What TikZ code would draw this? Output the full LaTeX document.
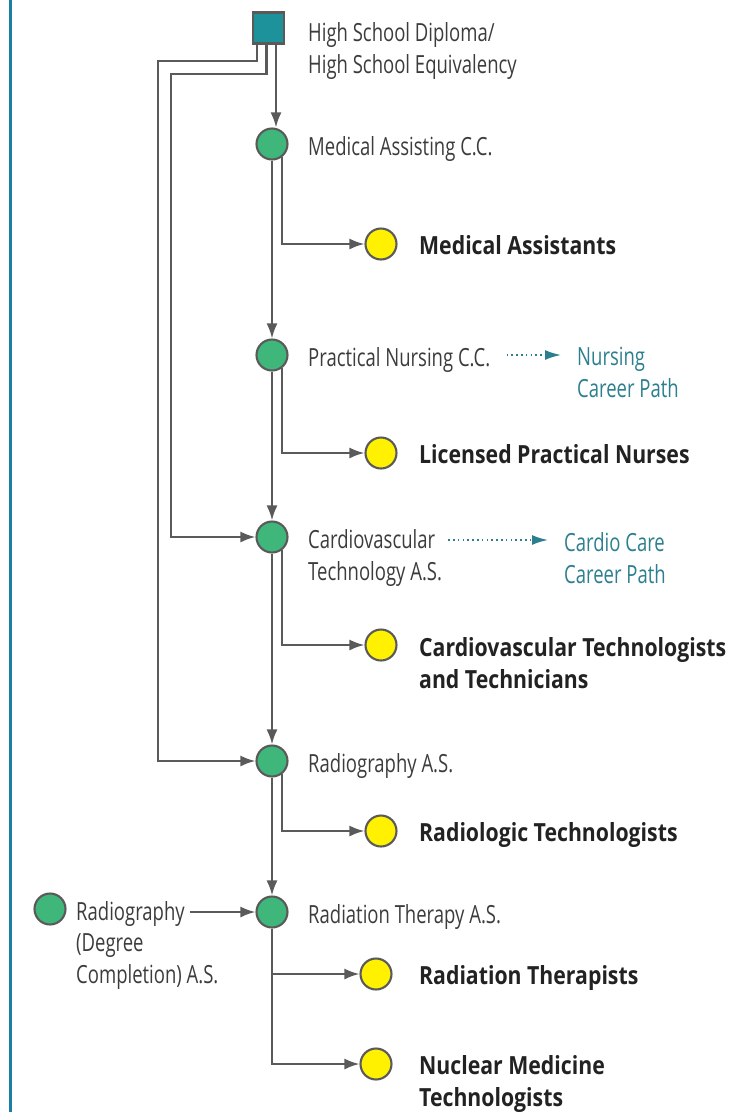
\documentclass[tikz,border=0pt]{standalone}
\usepackage{fontspec}
\setmainfont{Open Sans}[FakeStretch=0.74, BoldFeatures={FakeStretch=0.85}]
\usetikzlibrary{arrows.meta,positioning}
\definecolor{linegray}{HTML}{5A5A5A}
\definecolor{textgray}{HTML}{3C3C3C}
\definecolor{textdark}{HTML}{222222}
\definecolor{pathteal}{HTML}{2C7F8F}
\definecolor{diplteal}{HTML}{1E929B}
\definecolor{proggreen}{HTML}{3FB67A}
\definecolor{jobyellow}{HTML}{FFF100}
\definecolor{bordblue}{HTML}{1A7FA3}
\tikzset{
  prog/.style={circle, draw=linegray, line width=2.1pt, fill=proggreen, minimum size=31pt, inner sep=0pt},
  job/.style={prog, fill=jobyellow},
  lab/.style={anchor=base west, inner sep=0pt, align=left, text=textgray, font=\fontsize{25}{32}\selectfont},
  joblab/.style={lab, text=textdark, font=\fontsize{25}{32}\selectfont\bfseries},
  pathlab/.style={lab, text=pathteal},
  flow/.style={linegray, line width=2.1pt, -{Latex[length=15pt,width=11pt]}},
  dotflow/.style={pathteal, line width=1.8pt, dash pattern=on 1.6pt off 3.2pt, -{Latex[length=16pt,width=10pt]}}
}
\begin{document}
\begin{tikzpicture}[x=1pt,y=-1pt]
\useasboundingbox (0,0) rectangle (747,1112);
\draw[bordblue, line width=3pt] (10.5,0) -- (10.5,1112);
\node[draw=linegray, line width=2.1pt, fill=diplteal, minimum size=31pt, inner sep=0pt] (hs) at (268.5,28) {};
\node[lab] (hslab) at (308,73) {High School Diploma/\\High School Equivalency};

\node[prog] (ma) at (272,144) {};
\node[prog] (pn) at (272,355) {};
\node[prog] (cv) at (272,537) {};
\node[prog] (ra) at (272,761) {};
\node[prog] (rt) at (272,912) {};
\node[prog] (rd) at (50,909) {};

\node[job] (mas) at (381,244) {};
\node[job] (lpn) at (381,453) {};
\node[job] (cvt) at (381,645) {};
\node[job] (rat) at (381,831) {};
\node[job] (rth) at (376,974) {};
\node[job] (nmt) at (376,1064) {};

\node[lab] (malab) at (308,155) {Medical Assisting C.C.};
\node[lab] (pnlab) at (308,366) {Practical Nursing C.C.};
\node[lab] (cvlab) at (308,580) {Cardiovascular\\Technology A.S.};
\node[lab] (ralab) at (308,772) {Radiography A.S.};
\node[lab] (rtlab) at (308,923) {Radiation Therapy A.S.};
\node[lab] (rdlab) at (76,920) {Radiography};
\node[lab] (rdlab2) at (76,983) {(Degree\\Completion) A.S.};

\node[pathlab] (nurs) at (577,397) {Nursing\\Career Path};
\node[pathlab] (card) at (564,583) {Cardio Care\\Career Path};

\node[joblab] (maslab) at (419,254) {Medical Assistants};
\node[joblab] (lpnlab) at (419,463) {Licensed Practical Nurses};
\node[joblab] (cvtlab) at (419,688) {Cardiovascular Technologists\\and Technicians};
\node[joblab] (ratlab) at (419,841) {Radiologic Technologists};
\node[joblab] (rthlab) at (419,984) {Radiation Therapists};
\node[joblab] (nmtlab) at (419,1106) {Nuclear Medicine\\Technologists};

\draw[flow] ([xshift=-11.5pt]hs.south) |- (158,61) |- (ra);
\draw[flow] ([xshift=-2pt]hs.south) |- (171,74) |- (cv);
\draw[flow] ([xshift=7.5pt]hs.south) -- ([xshift=4pt]ma.north);
\draw[flow] (ma) -- (pn);
\draw[flow] (pn) -- (cv);
\draw[flow] (cv) -- (ra);
\draw[flow] (ra) -- (rt);
\draw[flow] (ma.-51) |- (mas);
\draw[flow] (pn.-51) |- (lpn);
\draw[flow] (cv.-51) |- (cvt);
\draw[flow] (ra.-51) |- (rat);
\draw[flow] (rt.south) |- (rth);
\draw[flow] (rt.south) |- (nmt);
\draw[flow] ([xshift=5pt]rdlab.east |- rt) -- (rt);
\draw[dotflow] ([xshift=16pt]pnlab.east |- pn) -- ([xshift=-16pt]nurs.west |- pn);
\draw[dotflow] ([xshift=6pt]cvlab.east |- 0,540) -- ([xshift=-16pt]card.west |- 0,540);
\end{tikzpicture}
\end{document}
